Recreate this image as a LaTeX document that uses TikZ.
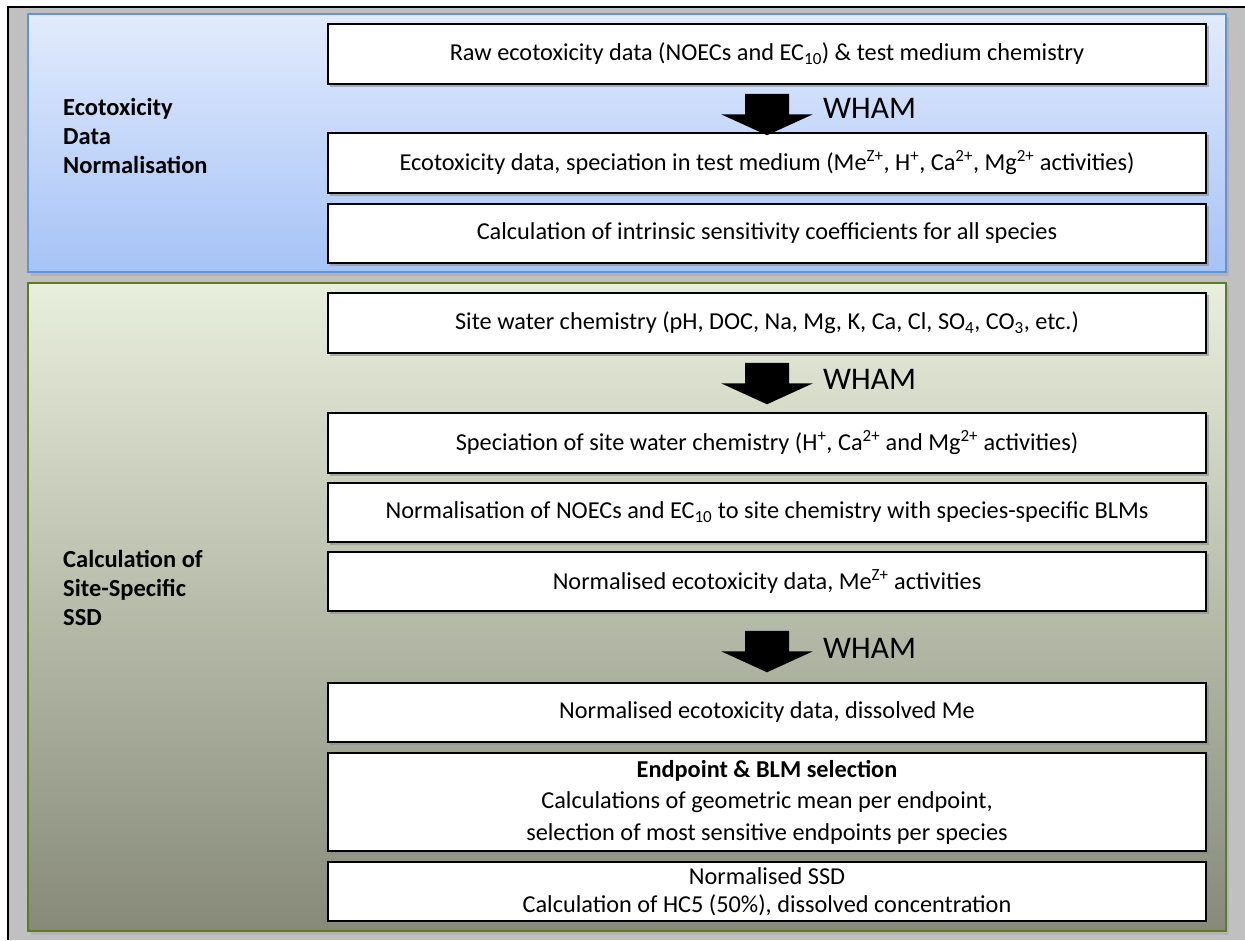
\documentclass[tikz,border=0pt]{standalone}
\usepackage{fontspec}
\setmainfont{Carlito}
\usetikzlibrary{calc}
\definecolor{pagegray}{HTML}{C0C0C0}
\definecolor{bluetop}{HTML}{E2EBFC}
\definecolor{bluebot}{HTML}{A6C3F6}
\definecolor{blueedge}{HTML}{6493D2}
\definecolor{greentop}{HTML}{E8EFDC}
\definecolor{greenmid}{HTML}{C9CFBA}
\definecolor{greenbot}{HTML}{878A78}
\definecolor{greenedge}{HTML}{5B7A2C}
\begin{document}
\begin{tikzpicture}[x=1pt,y=-1pt,
  box/.style={draw=black, line width=1.5pt, fill=white, minimum width=878pt,
    inner sep=2pt, align=center, font=\fontsize{24.3}{28}\selectfont},
  boxshadow/.style={fill=black!45, opacity=0.6},
  sectionlabel/.style={anchor=west, align=left, inner sep=0pt,
    font=\fontsize{24.5}{28.8}\selectfont\bfseries},
  whamlabel/.style={anchor=west, inner sep=0pt, font=\fontsize{31.5}{34}\selectfont},
  blockarrow/.style={fill=black}
]
\useasboundingbox (0,0) rectangle (1245,940);

% page background and frame
\fill[pagegray] (8,6) rectangle (1245,940);
\draw[black, line width=2pt] (8,940) -- (8,6.5) -- (1245,6.5);

% panel shadows
\fill[black!30] (31,17) rectangle (1229,276);
\fill[black!30] (31,285) rectangle (1229,935);

% upper panel: data normalisation
\shade[top color=bluetop, bottom color=bluebot] (28,14) rectangle (1226,272);
\draw[blueedge, line width=1.5pt] (28,14) rectangle (1226,272);

% lower panel: site-specific SSD
\shade[top color=greentop, middle color=greenmid, bottom color=greenbot] (28,283) rectangle (1226,931);
\draw[greenedge, line width=1.5pt] (28,283) rectangle (1226,931);

% section titles
\node[sectionlabel] (t1) at (63,136) {Ecotoxicity\\Data\\Normalisation};
\node[sectionlabel] (t2) at (63,588) {Calculation of\\Site-Specific\\SSD};

% box shadows
\foreach \yt/\yb in {24/84,133/193,204/263,293/353,413/473,483/542,552/611,683/742,753/851,862/921}
  \fill[boxshadow] (330,\yt+2) rectangle (1208.5,\yb+2.5);

% process boxes
\node[box, minimum height=60pt] (b1) at (767,54)
  {Raw ecotoxicity data (NOECs and EC\textsubscript{10}) \& test medium chemistry};
\node[box, minimum height=60pt] (b2) at (767,163)
  {Ecotoxicity data, speciation in test medium (Me\textsuperscript{Z+}, H\textsuperscript{+}, Ca\textsuperscript{2+}, Mg\textsuperscript{2+} activities)};
\node[box, minimum height=59pt] (b3) at (767,233.5)
  {Calculation of intrinsic sensitivity coefficients for all species};
\node[box, minimum height=60pt] (b4) at (767,323)
  {Site water chemistry (pH, DOC, Na, Mg, K, Ca, Cl, SO\textsubscript{4}, CO\textsubscript{3}, etc.)};
\node[box, minimum height=60pt] (b5) at (767,443)
  {Speciation of site water chemistry (H\textsuperscript{+}, Ca\textsuperscript{2+} and Mg\textsuperscript{2+} activities)};
\node[box, minimum height=59pt] (b6) at (767,512.5)
  {Normalisation of NOECs and EC\textsubscript{10} to site chemistry with species-specific BLMs};
\node[box, minimum height=59pt] (b7) at (767,581.5)
  {Normalised ecotoxicity data, Me\textsuperscript{Z+} activities};
\node[box, minimum height=59pt] (b8) at (767,712.5)
  {Normalised ecotoxicity data, dissolved Me};
\node[box, minimum height=98pt, font=\fontsize{24.3}{31.5}\selectfont] (b9) at (767,802)
  {\textbf{Endpoint \& BLM selection}\\Calculations of geometric mean per endpoint,\\selection of most sensitive endpoints per species};
\node[box, minimum height=59pt, font=\fontsize{24.3}{28}\selectfont] (b10) at (767,891.5)
  {Normalised SSD\\Calculation of HC5 (50\%), dissolved concentration};

% WHAM block arrows between boxes
\coordinate (a1) at ($(b1.south)+(0,9)$);
\coordinate (a2) at ($(b4.south)+(0,9)$);
\coordinate (a3) at ($(b7.south)+(0,19)$);
\foreach \a in {a1,a2,a3}
  \fill[blockarrow] (\a) ++(-22,0) -- ++(44,0) -- ++(0,20.5) -- ++(24,0)
    -- ++(-46,21) -- ++(-46,-21) -- ++(24,0) -- cycle;
\node[whamlabel] (w1) at ($(a1)+(56,14.5)$) {WHAM};
\node[whamlabel] (w2) at ($(a2)+(56,17)$) {WHAM};
\node[whamlabel] (w3) at ($(a3)+(56,18)$) {WHAM};
\end{tikzpicture}
\end{document}
